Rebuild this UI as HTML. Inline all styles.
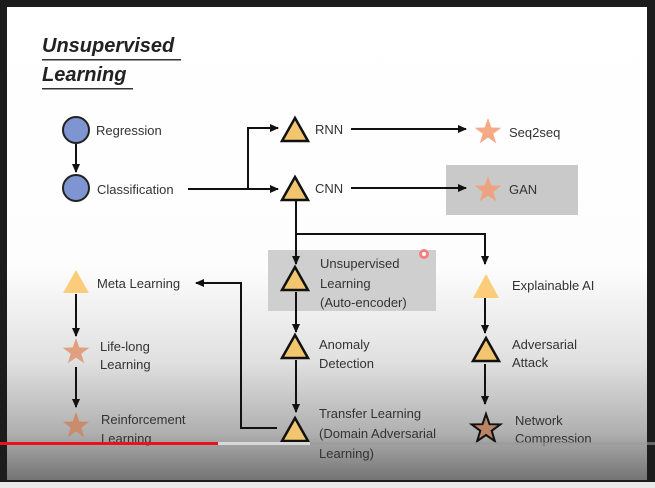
<!DOCTYPE html>
<html><head><meta charset="utf-8"><style>
html,body{margin:0;padding:0;background:#1c1c1c;}
svg{display:block}
text{font-family:"Liberation Sans",sans-serif;font-size:13px;fill:#333;}
</style></head><body>
<svg width="655" height="488" viewBox="0 0 655 488" xmlns="http://www.w3.org/2000/svg">
<defs>
<linearGradient id="bg" x1="0" y1="0" x2="0" y2="1">
<stop offset="0" stop-color="#ffffff"/>
<stop offset="0.55" stop-color="#fdfdfd"/>
<stop offset="0.75" stop-color="#e0e0e0"/>
<stop offset="0.9" stop-color="#b0b0b0"/>
<stop offset="1" stop-color="#747474"/>
</linearGradient>
<marker id="a" markerWidth="10" markerHeight="10" refX="8" refY="5" orient="auto" markerUnits="userSpaceOnUse">
<path d="M0,1 L9,5 L0,9 z" fill="#111"/></marker>
</defs>
<rect x="0" y="0" width="655" height="488" fill="#1c1c1c"/>
<rect x="7" y="7" width="640" height="473" fill="url(#bg)"/>
<rect x="0" y="482" width="655" height="6" fill="#eaeaea"/>
<text x="42" y="52" style="font-size:20px;font-weight:bold;font-style:italic;fill:#222">Unsupervised</text>
<rect x="42" y="59" width="139" height="1.5" fill="#333"/>
<text x="42" y="81" style="font-size:20px;font-weight:bold;font-style:italic;fill:#222">Learning</text>
<rect x="42" y="88" width="91" height="1.5" fill="#333"/>
<rect x="446" y="165" width="132" height="50" fill="#c9c9c9"/>
<rect x="268" y="250" width="168" height="61" fill="#cfcfcf"/>
<g stroke="#111" stroke-width="2" fill="none">
<line x1="76" y1="144" x2="76" y2="172" marker-end="url(#a)"/>
<line x1="188" y1="189" x2="278" y2="189" marker-end="url(#a)"/>
<polyline points="248,189 248,128 278,128" marker-end="url(#a)"/>
<line x1="351" y1="129" x2="466" y2="129" marker-end="url(#a)"/>
<line x1="351" y1="188" x2="466" y2="188" marker-end="url(#a)"/>
<line x1="296" y1="201" x2="296" y2="264" marker-end="url(#a)"/>
<polyline points="296,234 485,234 485,264" marker-end="url(#a)"/>
<line x1="296" y1="292" x2="296" y2="332" marker-end="url(#a)"/>
<line x1="296" y1="360" x2="296" y2="412" marker-end="url(#a)"/>
<polyline points="277,428 241,428 241,283 196,283" marker-end="url(#a)"/>
<line x1="76" y1="294" x2="76" y2="336" marker-end="url(#a)"/>
<line x1="76" y1="367" x2="76" y2="407" marker-end="url(#a)"/>
<line x1="485" y1="298" x2="485" y2="333" marker-end="url(#a)"/>
<line x1="485" y1="364" x2="485" y2="404" marker-end="url(#a)"/>
</g>
<circle cx="76" cy="130" r="13" fill="#7f95d1" stroke="#222" stroke-width="2"/>
<circle cx="76" cy="188" r="13" fill="#7f95d1" stroke="#222" stroke-width="2"/>
<g fill="#f2c66e" stroke="#111" stroke-width="2.5">
<polygon points="295,118 308,141 282,141"/>
<polygon points="295,177 308,200 282,200"/>
<polygon points="295,267 308,290 282,290"/>
<polygon points="295,335 308,358 282,358"/>
<polygon points="295,418 308,441 282,441"/>
<polygon points="486,338 499,361 473,361"/>
</g>
<polygon points="76,270 89,293 63,293" fill="#fbcd7a"/>
<polygon points="486,274 499,298 473,298" fill="#fbcd7a"/>
<g>
<polygon transform="translate(488,132)" points="0,-14 3.3,-4.5 13.3,-4.3 5.3,1.7 8.2,11.3 0,5.6 -8.2,11.3 -5.3,1.7 -13.3,-4.3 -3.3,-4.5" fill="#f5a984"/>
<polygon transform="translate(488,190)" points="0,-14 3.3,-4.5 13.3,-4.3 5.3,1.7 8.2,11.3 0,5.6 -8.2,11.3 -5.3,1.7 -13.3,-4.3 -3.3,-4.5" fill="#eea27f"/>
<polygon transform="translate(76,352)" points="0,-14 3.3,-4.5 13.3,-4.3 5.3,1.7 8.2,11.3 0,5.6 -8.2,11.3 -5.3,1.7 -13.3,-4.3 -3.3,-4.5" fill="#e0a080"/>
<polygon transform="translate(76,426)" points="0,-14 3.3,-4.5 13.3,-4.3 5.3,1.7 8.2,11.3 0,5.6 -8.2,11.3 -5.3,1.7 -13.3,-4.3 -3.3,-4.5" fill="#c98c6c"/>
<polygon transform="translate(486,429)" points="0,-15 3.5,-4.8 14.3,-4.6 5.7,1.8 8.8,12.1 0,6 -8.8,12.1 -5.7,1.8 -14.3,-4.6 -3.5,-4.8" fill="#b98466" stroke="#111" stroke-width="2"/>
</g>
<text x="96" y="135">Regression</text>
<text x="97" y="194">Classification</text>
<text x="315" y="134">RNN</text>
<text x="315" y="193">CNN</text>
<text x="509" y="137">Seq2seq</text>
<text x="509" y="194">GAN</text>
<text x="320" y="268">Unsupervised</text>
<text x="320" y="288">Learning</text>
<text x="320" y="307">(Auto-encoder)</text>
<text x="97" y="288">Meta Learning</text>
<text x="512" y="290">Explainable AI</text>
<text x="100" y="351">Life-long</text>
<text x="100" y="369">Learning</text>
<text x="319" y="349">Anomaly</text>
<text x="319" y="368">Detection</text>
<text x="512" y="349">Adversarial</text>
<text x="512" y="367">Attack</text>
<text x="101" y="424">Reinforcement</text>
<text x="101" y="443">Learning</text>
<text x="319" y="418">Transfer Learning</text>
<text x="319" y="438">(Domain Adversarial</text>
<text x="319" y="458">Learning)</text>
<text x="515" y="425">Network</text>
<text x="515" y="443">Compression</text>
<circle cx="424" cy="254" r="5" fill="#ff6b6b" opacity="0.8"/>
<circle cx="424" cy="254" r="2" fill="#fff"/>
<rect x="0" y="442" width="655" height="3" fill="#9a9a9a" opacity="0.6"/>
<rect x="0" y="442" width="310" height="3" fill="#d8d8d8"/>
<rect x="0" y="442" width="218" height="3" fill="#e8141b"/>
</svg>
</body></html>
